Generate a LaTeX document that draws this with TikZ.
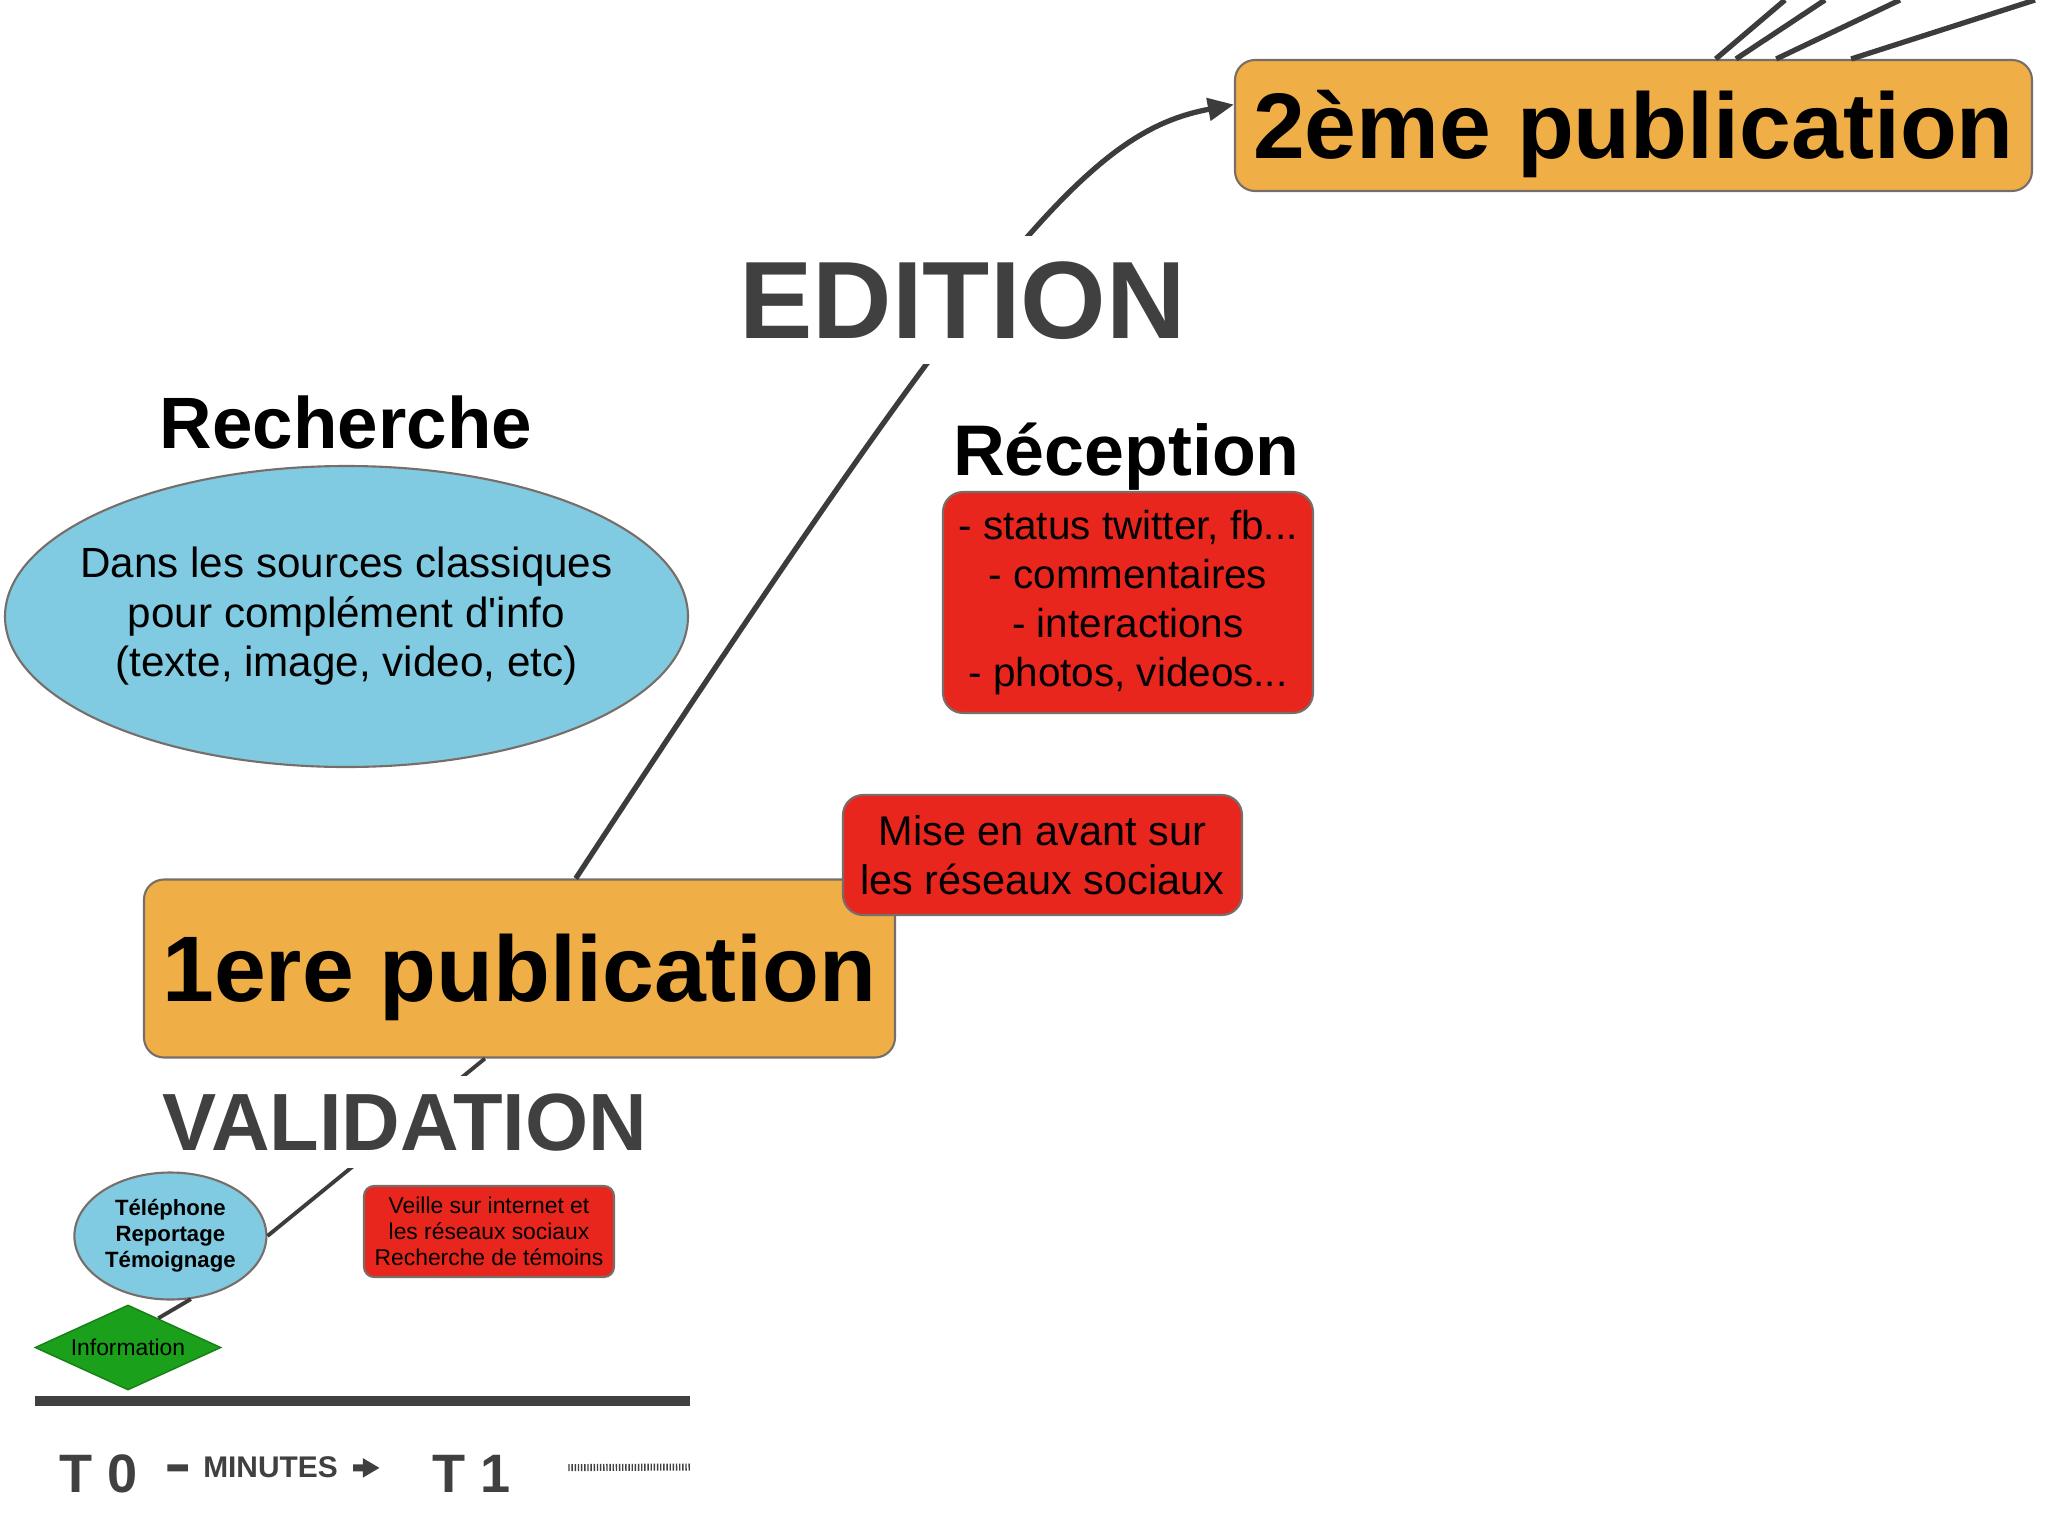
\documentclass[tikz,border=0pt]{standalone}
\usepackage{fontspec}
\setmainfont{Liberation Sans}
\usetikzlibrary{shapes.geometric,arrows.meta}
\definecolor{pubfill}{RGB}{240,174,70}
\definecolor{redfill}{RGB}{232,38,30}
\definecolor{bluefill}{RGB}{128,203,226}
\definecolor{greenfill}{RGB}{27,160,27}
\definecolor{darktext}{RGB}{64,64,64}
\definecolor{linkgray}{RGB}{60,60,60}
\definecolor{edgegray}{RGB}{120,110,105}
\begin{document}
\begin{tikzpicture}[
  pubbox/.style={draw=edgegray, line width=0.6pt, fill=pubfill, rounded corners=0.2cm, inner sep=0pt,
    font=\fontsize{26.5}{30}\selectfont\bfseries, text height=19pt, text depth=0pt},
  redbox/.style={draw=edgegray, line width=0.6pt, fill=redfill, rounded corners=0.2cm, inner sep=0pt, align=center},
  bluebub/.style={ellipse, draw=edgegray, line width=0.6pt, fill=bluefill, inner sep=0pt, align=center},
  phase/.style={fill=white, text=darktext, anchor=base, inner xsep=0.1cm, font=\fontsize{#1}{#1}\selectfont\bfseries},
  headline/.style={inner sep=0pt, anchor=base, font=\fontsize{#1}{#1}\selectfont\bfseries},
  timetxt/.style={text=darktext, inner sep=0pt, anchor=base},
  link/.style={draw=linkgray, line width=1.1pt}
]
\useasboundingbox (0,0) rectangle (20.48,-15.35);
\fill[white] (0,0) rectangle (20.48,-15.35);

\node[pubbox, minimum width=7.97cm, minimum height=1.31cm] (pub2) at (16.335,-1.255) {2ème publication};
\node[headline=20.7] (recherche) at (3.46,-4.48) {Recherche};
\node[bluebub, inner xsep=-0.3cm, minimum width=6.83cm, minimum height=3.01cm, font=\fontsize{12}{14.1}\selectfont] (sources) at (3.465,-6.165)
  {Dans les sources classiques\\pour complément d\textquotesingle info\\(texte, image, video, etc)};
\node[headline=20.4] (reception) at (11.265,-4.75) {Réception};
\node[redbox, minimum width=3.70cm, minimum height=2.21cm, font=\fontsize{11.5}{14}\selectfont] (feedback) at (11.28,-6.025)
  {- status twitter, fb...\\- commentaires\\- interactions\\- photos, videos...};
\node[pubbox, minimum width=7.51cm, minimum height=1.78cm] (pub1) at (5.195,-9.685) {1ere publication};
\node[redbox, minimum width=3.99cm, minimum height=1.20cm, font=\fontsize{11.8}{14.1}\selectfont] (social) at (10.425,-8.55)
  {Mise en avant sur\\les réseaux sociaux};

\node[bluebub, minimum width=1.92cm, minimum height=1.27cm, font=\fontsize{6.3}{7.4}\selectfont\bfseries] (tel) at (1.704,-12.36)
  {Téléphone\\Reportage\\Témoignage};
\node[redbox, rounded corners=0.1cm, minimum width=2.50cm, minimum height=0.91cm, font=\fontsize{6.5}{7.4}\selectfont] (veille) at (4.89,-12.315)
  {Veille sur internet et\\les réseaux sociaux\\Recherche de témoins};
\node[diamond, aspect=2.2, draw=greenfill!80!black, line width=0.4pt, fill=greenfill, inner sep=0pt,
  minimum width=1.86cm, minimum height=0.85cm, font=\fontsize{6.5}{7.4}\selectfont] (info) at (1.28,-13.475) {Information};

\coordinate (outA) at (17.85,0);
\coordinate (outB) at (18.25,0);
\coordinate (outC) at (19.00,0);
\coordinate (outD) at (20.35,0);

\draw[link] (info.44) -- (tel.288);
\draw[link] (tel.east) -- (pub1.249);
\draw[link, line width=1.5pt, -{Triangle[length=7.4pt,width=6.3pt]}] (pub1.58) .. controls (9.99,-2.33) and (10.93,-1.31) .. (pub2.177);
\draw[link, line width=1.5pt] (pub2.39) -- (outA);
\draw[link, line width=1.5pt] (pub2.33) -- (outB);
\draw[link, line width=1.5pt] (pub2.25) -- (outC);
\draw[link, line width=1.5pt] (pub2.17) -- (outD);

\node[phase=31.3, inner ysep=0.25cm] (edition) at (9.625,-3.38) {EDITION};
\node[phase=23.1, inner ysep=0.17cm] (validation) at (4.05,-11.50) {VALIDATION};

\coordinate (axisL) at (0.35,-14.01);
\coordinate (axisR) at (6.90,-14.01);
\draw[darktext, line width=2.85pt] (axisL) -- (axisR);

\node[timetxt, font=\fontsize{15.4}{16}\selectfont\bfseries] (t0) at (0.985,-14.92) {T 0};
\node[timetxt, font=\fontsize{15.4}{16}\selectfont\bfseries] (t1) at (4.715,-14.92) {T 1};
\draw[darktext, line width=2pt, -{Triangle[length=4.8pt,width=5.2pt]}, shorten <=0.29cm, shorten >=0.52cm]
  ([yshift=0.055cm]t0.east) -- ([yshift=0.055cm]t1.west);
\node[timetxt, fill=white, inner xsep=0.15cm, inner ysep=0.05cm, font=\fontsize{8.5}{9}\selectfont\bfseries] (minutes) at (2.705,-14.77) {MINUTES};
\coordinate (dotend) at (6.90,-14.67);
\draw[darktext, line width=2pt, dash pattern=on 0.4pt off 0.5pt, shorten <=0.57cm] ([yshift=0.055cm]t1.east) -- (dotend);
\end{tikzpicture}
\end{document}
